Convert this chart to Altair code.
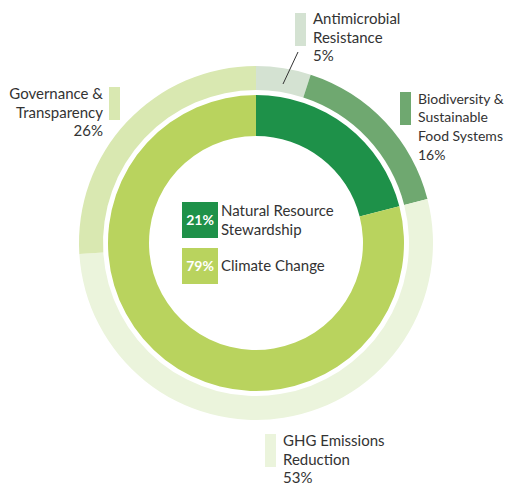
import altair as alt
import pandas as pd

# ---- data ----
inner_categories = ["Natural Resource Stewardship", "Climate Change"]
inner_values = [21, 79]
outer_categories = [
    "Antimicrobial Resistance",
    "Biodiversity & Sustainable Food Systems",
    "GHG Emissions Reduction",
    "Governance & Transparency",
]
outer_values = [5, 16, 53, 26]

# ---- styles ----
inner_colors = ["#1e9149", "#b9d35e"]
outer_colors = ["#d4e2d2", "#6fa870", "#ebf4dc", "#d9e8b1"]
FONT = "Lato"
TXT = "#333333"
FS = 15
LH = 18.7
OFF = 8  # page margin

W, H = 496, 470

inner_df = pd.DataFrame({"category": inner_categories, "value": inner_values, "order": list(range(len(inner_values)))})
outer_df = pd.DataFrame({"category": outer_categories, "value": outer_values, "order": list(range(len(outer_values)))})

outer = alt.Chart(outer_df).mark_arc(radius=177, radius2=153).encode(
    theta=alt.Theta("value:Q", stack=True),
    order=alt.Order("order:Q"),
    color=alt.Color("category:N", scale=alt.Scale(domain=outer_categories, range=outer_colors), legend=None),
)
inner = alt.Chart(inner_df).mark_arc(radius=148, radius2=107).encode(
    theta=alt.Theta("value:Q", stack=True),
    order=alt.Order("order:Q"),
    color=alt.Color("category:N", scale=alt.Scale(domain=inner_categories, range=inner_colors), legend=None),
)

dummy = pd.DataFrame({"d": [0]})


def text_layer(lines, x, y, align="left", color=TXT, weight="normal", size=FS):
    return alt.Chart(dummy).mark_text(
        text=lines, align=align, baseline="alphabetic", font=FONT, fontSize=size,
        lineHeight=LH, color=color, fontWeight=weight,
    ).encode(x=alt.value(x - OFF), y=alt.value(y - OFF))


def rect_layer(x1, x2, y1, y2, color):
    return alt.Chart(dummy).mark_rect(color=color).encode(
        x=alt.value(x1 - OFF), x2=alt.value(x2 - OFF), y=alt.value(y1 - OFF), y2=alt.value(y2 - OFF)
    )


pct = lambda v: f"{v}%"

layers = [outer, inner]

# outer labels
layers += [
    rect_layer(295, 306, 13, 46, outer_colors[0]),
    text_layer(["Antimicrobial", "Resistance", pct(outer_values[0])], 313, 24),
    alt.Chart(dummy).mark_rule(color="#333333", strokeWidth=1).encode(
        x=alt.value(298 - OFF), y=alt.value(52 - OFF), x2=alt.value(283 - OFF), y2=alt.value(84 - OFF)
    ),
    rect_layer(400, 411, 92, 125, outer_colors[1]),
    text_layer(["Biodiversity &", "Sustainable", "Food Systems", pct(outer_values[1])], 418, 103.5, size=14),
    rect_layer(265, 276, 434, 467, outer_colors[2]),
    text_layer(["GHG Emissions", "Reduction", pct(outer_values[2])], 283, 446),
    rect_layer(109, 120, 87, 120, outer_colors[3]),
    text_layer(["Governance &", "Transparency", pct(outer_values[3])], 103, 99, align="right"),
]

# center legend
layers += [
    rect_layer(182, 218, 202, 238, inner_colors[0]),
    text_layer([pct(inner_values[0])], 200, 225, align="center", color="white", weight="bold", size=14),
    text_layer(["Natural Resource", "Stewardship"], 221, 216),
    rect_layer(182, 218, 248, 284, inner_colors[1]),
    text_layer([pct(inner_values[1])], 200, 271, align="center", color="white", weight="bold", size=14),
    text_layer(["Climate Change"], 221, 271),
]

chart = alt.layer(*layers).resolve_scale(color="independent", theta="independent").properties(
    width=W, height=H, padding={"left": 0, "top": 0, "right": 2, "bottom": 7}, autosize="none"
).configure_view(stroke=None)

chart.save("out.html", embed_options={"renderer": "svg", "actions": False})
